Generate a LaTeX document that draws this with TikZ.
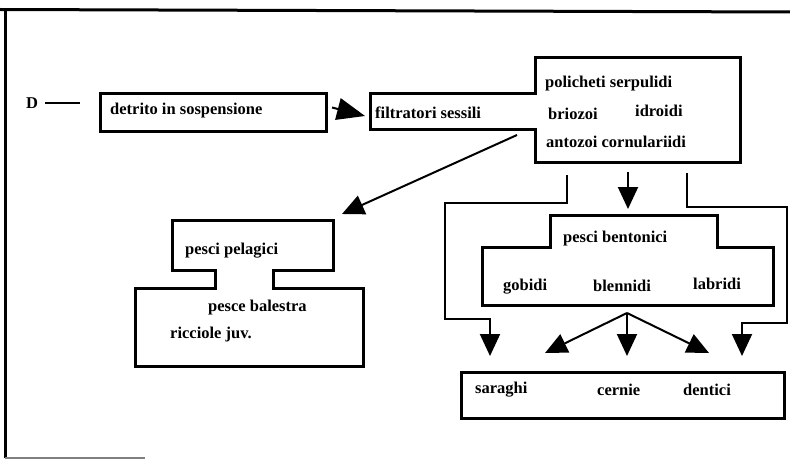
\documentclass[tikz,border=0pt]{standalone}
\usepackage{fontspec}
\setmainfont{Liberation Serif}
\usetikzlibrary{arrows.meta}
\begin{document}
\begin{tikzpicture}[x=1pt,y=-1pt,
  boxline/.style={line width=3pt, line join=miter},
  conn/.style={line width=2pt},
  lbl/.style={anchor=west, inner sep=0pt, font=\fontsize{16.5}{19}\selectfont\bfseries},
  tip/.style={-{Triangle[length=22pt,width=20pt]}},
  bigtip/.style={-{Triangle[length=28pt,width=22pt]}}]
\useasboundingbox (0,0) rectangle (790,460);
% frame
\draw[line width=3pt] (0,9.5) -- (790,12);
\draw[line width=3pt] (5,9) -- (5,458);
\draw[line width=1.2pt, gray] (5,458) -- (145,458);

% D
\node[lbl] (D) at (26,103) {D};
\coordinate (Dend) at (80,103);
\draw[line width=2.6pt] ([xshift=7pt]D.east) -- (Dend);

% detrito box
\node[boxline, draw, minimum width=226pt, minimum height=38pt, anchor=north west, inner sep=0pt] (detrito) at (99,92) {};
\node[lbl] (tdetrito) at (110,111) {detrito in sospensione};

% filtratori shape
\draw[boxline] (370,93) -- (535,93) -- (535,58) -- (740,58) -- (740,162) -- (535,162) -- (535,129) -- (370,129) -- cycle;
\coordinate (filtW) at (365,116);
\coordinate (filtSW) at (517,135);
\coordinate (filtS1) at (567,175);
\coordinate (filtS2) at (628,172);
\coordinate (filtS3) at (687,173);
\node[lbl] (tfilt) at (375,113) {filtratori sessili};
\node[lbl] (tpoli) at (545,84) {policheti serpulidi};
\node[lbl] (tbrio) at (548,114) {briozoi};
\node[lbl] (tidro) at (635,111) {idroidi};
\node[lbl] (tanto) at (546,142) {antozoi cornulariidi};

\draw[conn, bigtip] ([xshift=4pt,yshift=5pt]detrito.east) -- (filtW);

% pesci pelagici shape
\draw[boxline] (172,220) -- (333,220) -- (333,270) -- (273,270) -- (273,288) -- (363,288) -- (363,366) -- (135,366) -- (135,288) -- (215,288) -- (215,270) -- (172,270) -- cycle;
\coordinate (pelagNE) at (342,214);
\node[lbl] (tpelag) at (185,251) {pesci pelagici};
\node[lbl] (tbal) at (208,308) {pesce balestra};
\node[lbl] (tricc) at (170,335) {ricciole juv.};

\draw[conn, tip] (filtSW) -- (pelagNE);

% pesci bentonici shape
\draw[boxline] (550,215) -- (717,215) -- (717,247) -- (773,247) -- (773,305) -- (482,305) -- (482,247) -- (550,247) -- cycle;
\coordinate (bentN) at (628,209);
\coordinate (bentS) at (627,313);
\node[lbl] (tbent) at (563,239) {pesci bentonici};
\node[lbl] (tgob) at (503,287) {gobidi};
\node[lbl] (tblen) at (593,286) {blennidi};
\node[lbl] (tlab) at (693,284) {labridi};

\draw[conn, tip] (filtS2) -- (bentN);

% saraghi box
\node[boxline, draw, minimum width=323pt, minimum height=46pt, anchor=north west, inner sep=0pt] (sarbox) at (460,371) {};
\node[lbl] (tsar) at (475,390) {saraghi};
\node[lbl] (tcer) at (597,390) {cernie};
\node[lbl] (tden) at (683,390) {dentici};
\coordinate (sarA) at (490,356);
\coordinate (sarB) at (545,353);
\coordinate (sarC) at (627,356);
\coordinate (sarD) at (709,353);
\coordinate (sarE) at (742,356);

% bypass connectors
\draw[conn, tip] (filtS1) -- (567,203) -- (445,203) -- (445,319) -- (490,319) -- (sarA);
\draw[conn, tip] (filtS3) -- (687,207) -- (787,207) -- (787,323) -- (742,323) -- (sarE);

% fan
\draw[conn, tip] (bentS) -- (sarB);
\draw[conn, tip] (bentS) -- (sarC);
\draw[conn, tip] (bentS) -- (sarD);
\end{tikzpicture}
\end{document}
